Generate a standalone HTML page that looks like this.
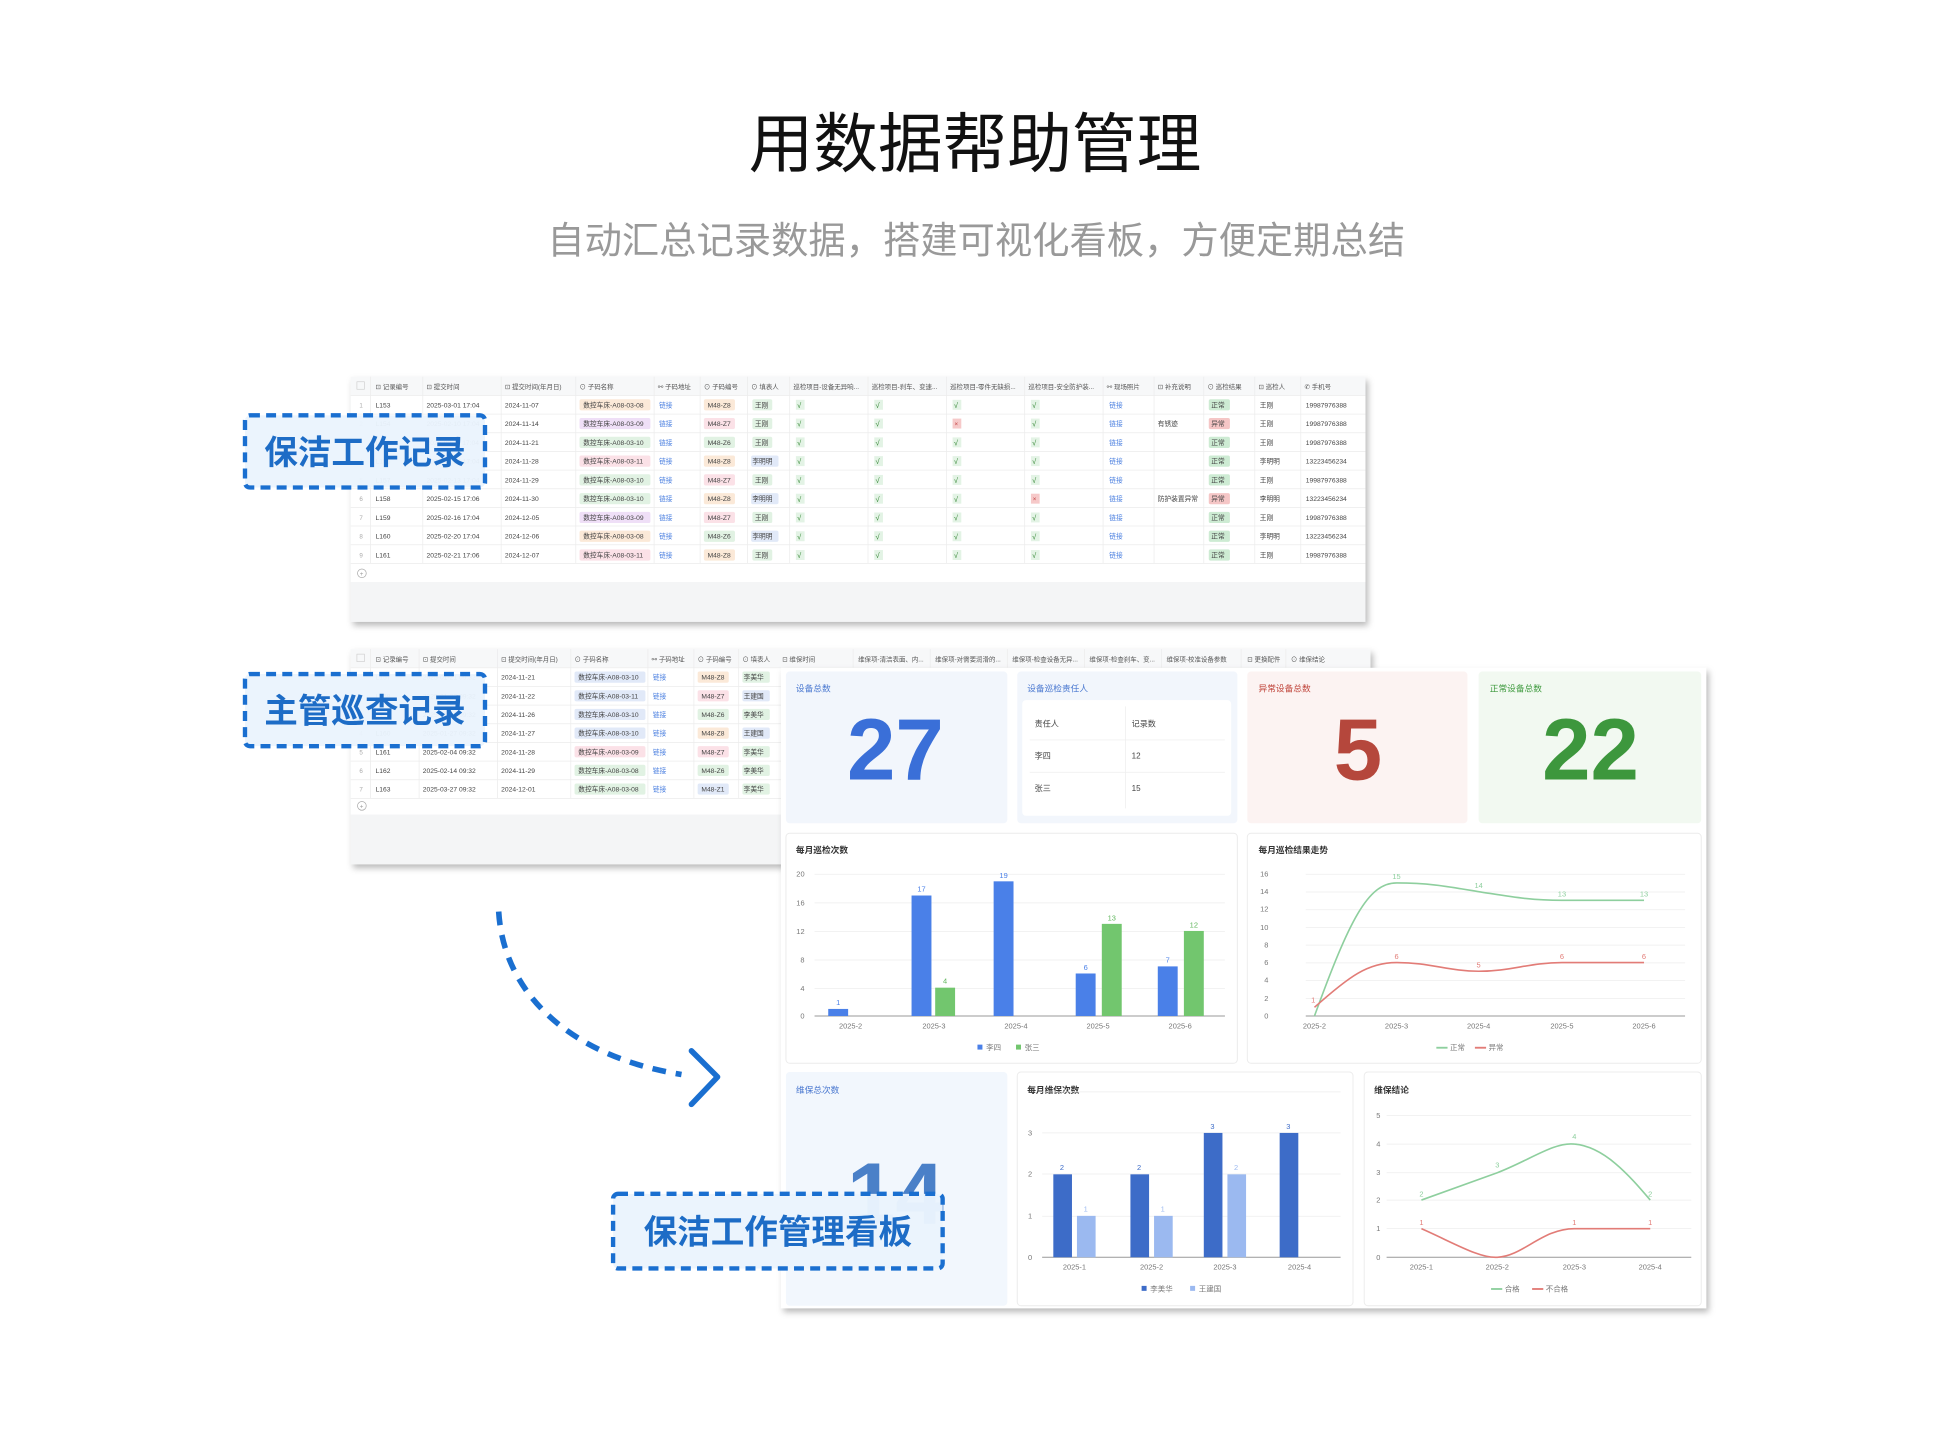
<!DOCTYPE html>
<html><head><meta charset="utf-8">
<style>
html,body{margin:0;padding:0;background:#fff;}
svg{display:block;font-family:"Liberation Sans","Noto Sans CJK SC",sans-serif;}
.t{font-size:5.4px;fill:#444;}
.h{font-size:5.2px;fill:#555;}
.n{font-size:5px;fill:#aaa;}
.lk{font-size:5.4px;fill:#4a7fe0;}
.ck{font-size:6px;fill:#3a8a3a;}
.x{font-size:5px;fill:#c04040;}
.ct{font-size:7px;font-weight:bold;fill:#333;}
.ax{font-size:6px;fill:#777;}
.vl{font-size:6px;}
</style></head>
<body>
<svg width="1940" height="1432" viewBox="0 0 1560 1151.5" preserveAspectRatio="none">
<defs>
<filter id="sh" x="-5%" y="-5%" width="115%" height="120%"><feDropShadow dx="2" dy="3" stdDeviation="2.5" flood-color="#000" flood-opacity="0.28"/></filter>
</defs>
<rect width="1560" height="1151.5" fill="#fff"/>
<text x="784" y="134" text-anchor="middle" font-size="52" fill="#111">用数据帮助管理</text>
<text x="785" y="204" text-anchor="middle" font-size="30" fill="#999">自动汇总记录数据，搭建可视化看板，方便定期总结</text>

<!-- TABLE 1 -->
<g filter="url(#sh)"><rect x="282" y="303" width="816" height="197" fill="#f4f5f6"/></g>
<rect x="282" y="303" width="816" height="165" fill="#fff"/>
<rect x="282" y="303" width="816" height="15" fill="#f7f8f9"/>
<g stroke="#ececec" stroke-width="0.6">
<line x1="282" y1="318" x2="1098" y2="318"/><line x1="282" y1="333" x2="1098" y2="333"/><line x1="282" y1="348" x2="1098" y2="348"/><line x1="282" y1="363" x2="1098" y2="363"/><line x1="282" y1="378" x2="1098" y2="378"/><line x1="282" y1="393" x2="1098" y2="393"/><line x1="282" y1="408" x2="1098" y2="408"/><line x1="282" y1="423" x2="1098" y2="423"/><line x1="282" y1="438" x2="1098" y2="438"/><line x1="282" y1="453" x2="1098" y2="453"/>
<line x1="298" y1="303" x2="298" y2="453"/><line x1="340" y1="303" x2="340" y2="453"/><line x1="403" y1="303" x2="403" y2="453"/><line x1="463" y1="303" x2="463" y2="453"/><line x1="526" y1="303" x2="526" y2="453"/><line x1="563" y1="303" x2="563" y2="453"/><line x1="601" y1="303" x2="601" y2="453"/><line x1="635" y1="303" x2="635" y2="453"/><line x1="698" y1="303" x2="698" y2="453"/><line x1="761" y1="303" x2="761" y2="453"/><line x1="824" y1="303" x2="824" y2="453"/><line x1="887" y1="303" x2="887" y2="453"/><line x1="928" y1="303" x2="928" y2="453"/><line x1="968" y1="303" x2="968" y2="453"/><line x1="1009" y1="303" x2="1009" y2="453"/><line x1="1046" y1="303" x2="1046" y2="453"/>
</g>
<g class="h">
<rect x="287" y="307" width="6" height="6" fill="none" stroke="#ccc" stroke-width="0.5"/>
<text x="302" y="313">⊡ 记录编号</text><text x="343" y="313">⊡ 提交时间</text><text x="406" y="313">⊡ 提交时间(年月日)</text><text x="466" y="313">⊙ 子码名称</text><text x="529" y="313">⚯ 子码地址</text><text x="566" y="313">⊙ 子码编号</text><text x="604" y="313">⊙ 填表人</text><text x="638" y="313">巡检项目-设备无异响...</text><text x="701" y="313">巡检项目-刹车、变速...</text><text x="764" y="313">巡检项目-零件无缺损...</text><text x="827" y="313">巡检项目-安全防护装...</text><text x="890" y="313">⚯ 现场照片</text><text x="931" y="313">⊡ 补充说明</text><text x="971" y="313">⊙ 巡检结果</text><text x="1012" y="313">⊡ 巡检人</text><text x="1049" y="313">✆ 手机号</text>
</g>
<g transform="translate(0,325.5)">
<text class="n" x="289" y="2">1</text><text class="t" x="302" y="2">L153</text><text class="t" x="343" y="2">2025-03-01 17:04</text><text class="t" x="406" y="2">2024-11-07</text>
<rect x="466" y="-4.5" width="57" height="9" rx="1.5" fill="#fbe9d8"/><text class="t" x="469" y="2">数控车床-A08-03-08</text><text class="lk" x="530" y="2">链接</text>
<rect x="566" y="-4.5" width="25" height="9" rx="1.5" fill="#fbe9d8"/><text class="t" x="569" y="2">M48-Z8</text><rect x="605" y="-4.5" width="16" height="9" rx="1.5" fill="#e1f2e3"/><text class="t" x="607" y="2">王刚</text>
<rect x="640" y="-4" width="7" height="8" fill="#e3f3e5"/><text class="ck" x="641" y="2.5">√</text><rect x="703" y="-4" width="7" height="8" fill="#e3f3e5"/><text class="ck" x="704" y="2.5">√</text><rect x="766" y="-4" width="7" height="8" fill="#e3f3e5"/><text class="ck" x="767" y="2.5">√</text><rect x="829" y="-4" width="7" height="8" fill="#e3f3e5"/><text class="ck" x="830" y="2.5">√</text>
<text class="lk" x="892" y="2">链接</text><rect x="972" y="-4.5" width="17" height="9" rx="1.5" fill="#cdebd3"/><text class="t" x="974" y="2">正常</text><text class="t" x="1013" y="2">王刚</text><text class="t" x="1050" y="2">19987976388</text>
</g>
<g transform="translate(0,340.6)">
<text class="n" x="289" y="2">2</text><text class="t" x="302" y="2">L154</text><text class="t" x="343" y="2">2025-02-10 17:04</text><text class="t" x="406" y="2">2024-11-14</text>
<rect x="466" y="-4.5" width="57" height="9" rx="1.5" fill="#efdff7"/><text class="t" x="469" y="2">数控车床-A08-03-09</text><text class="lk" x="530" y="2">链接</text>
<rect x="566" y="-4.5" width="25" height="9" rx="1.5" fill="#fbe1e7"/><text class="t" x="569" y="2">M48-Z7</text><rect x="605" y="-4.5" width="16" height="9" rx="1.5" fill="#e1f2e3"/><text class="t" x="607" y="2">王刚</text>
<rect x="640" y="-4" width="7" height="8" fill="#e3f3e5"/><text class="ck" x="641" y="2.5">√</text><rect x="703" y="-4" width="7" height="8" fill="#e3f3e5"/><text class="ck" x="704" y="2.5">√</text><rect x="766" y="-4" width="7" height="8" fill="#f6c9c9"/><text class="x" x="767.5" y="2">×</text><rect x="829" y="-4" width="7" height="8" fill="#e3f3e5"/><text class="ck" x="830" y="2.5">√</text>
<text class="lk" x="892" y="2">链接</text><text class="t" x="931" y="2">有锈迹</text><rect x="972" y="-4.5" width="17" height="9" rx="1.5" fill="#f5c6c6"/><text class="t" x="974" y="2">异常</text><text class="t" x="1013" y="2">王刚</text><text class="t" x="1050" y="2">19987976388</text>
</g>
<g transform="translate(0,355.7)">
<text class="n" x="289" y="2">3</text><text class="t" x="302" y="2">L155</text><text class="t" x="343" y="2">2025-02-11 17:04</text><text class="t" x="406" y="2">2024-11-21</text>
<rect x="466" y="-4.5" width="57" height="9" rx="1.5" fill="#e1f2e3"/><text class="t" x="469" y="2">数控车床-A08-03-10</text><text class="lk" x="530" y="2">链接</text>
<rect x="566" y="-4.5" width="25" height="9" rx="1.5" fill="#e1f2e3"/><text class="t" x="569" y="2">M48-Z6</text><rect x="605" y="-4.5" width="16" height="9" rx="1.5" fill="#e1f2e3"/><text class="t" x="607" y="2">王刚</text>
<rect x="640" y="-4" width="7" height="8" fill="#e3f3e5"/><text class="ck" x="641" y="2.5">√</text><rect x="703" y="-4" width="7" height="8" fill="#e3f3e5"/><text class="ck" x="704" y="2.5">√</text><rect x="766" y="-4" width="7" height="8" fill="#e3f3e5"/><text class="ck" x="767" y="2.5">√</text><rect x="829" y="-4" width="7" height="8" fill="#e3f3e5"/><text class="ck" x="830" y="2.5">√</text>
<text class="lk" x="892" y="2">链接</text><rect x="972" y="-4.5" width="17" height="9" rx="1.5" fill="#cdebd3"/><text class="t" x="974" y="2">正常</text><text class="t" x="1013" y="2">王刚</text><text class="t" x="1050" y="2">19987976388</text>
</g>
<g transform="translate(0,370.8)">
<text class="n" x="289" y="2">4</text><text class="t" x="302" y="2">L156</text><text class="t" x="343" y="2">2025-02-12 17:04</text><text class="t" x="406" y="2">2024-11-28</text>
<rect x="466" y="-4.5" width="57" height="9" rx="1.5" fill="#fbe1e7"/><text class="t" x="469" y="2">数控车床-A08-03-11</text><text class="lk" x="530" y="2">链接</text>
<rect x="566" y="-4.5" width="25" height="9" rx="1.5" fill="#fbe9d8"/><text class="t" x="569" y="2">M48-Z8</text><rect x="604" y="-4.5" width="22" height="9" rx="1.5" fill="#e1e9f8"/><text class="t" x="605" y="2">李明明</text>
<rect x="640" y="-4" width="7" height="8" fill="#e3f3e5"/><text class="ck" x="641" y="2.5">√</text><rect x="703" y="-4" width="7" height="8" fill="#e3f3e5"/><text class="ck" x="704" y="2.5">√</text><rect x="766" y="-4" width="7" height="8" fill="#e3f3e5"/><text class="ck" x="767" y="2.5">√</text><rect x="829" y="-4" width="7" height="8" fill="#e3f3e5"/><text class="ck" x="830" y="2.5">√</text>
<text class="lk" x="892" y="2">链接</text><rect x="972" y="-4.5" width="17" height="9" rx="1.5" fill="#cdebd3"/><text class="t" x="974" y="2">正常</text><text class="t" x="1013" y="2">李明明</text><text class="t" x="1050" y="2">13223456234</text>
</g>
<g transform="translate(0,385.9)">
<text class="n" x="289" y="2">5</text><text class="t" x="302" y="2">L157</text><text class="t" x="343" y="2">2025-02-13 17:04</text><text class="t" x="406" y="2">2024-11-29</text>
<rect x="466" y="-4.5" width="57" height="9" rx="1.5" fill="#e1f2e3"/><text class="t" x="469" y="2">数控车床-A08-03-10</text><text class="lk" x="530" y="2">链接</text>
<rect x="566" y="-4.5" width="25" height="9" rx="1.5" fill="#fbe1e7"/><text class="t" x="569" y="2">M48-Z7</text><rect x="605" y="-4.5" width="16" height="9" rx="1.5" fill="#e1f2e3"/><text class="t" x="607" y="2">王刚</text>
<rect x="640" y="-4" width="7" height="8" fill="#e3f3e5"/><text class="ck" x="641" y="2.5">√</text><rect x="703" y="-4" width="7" height="8" fill="#e3f3e5"/><text class="ck" x="704" y="2.5">√</text><rect x="766" y="-4" width="7" height="8" fill="#e3f3e5"/><text class="ck" x="767" y="2.5">√</text><rect x="829" y="-4" width="7" height="8" fill="#e3f3e5"/><text class="ck" x="830" y="2.5">√</text>
<text class="lk" x="892" y="2">链接</text><rect x="972" y="-4.5" width="17" height="9" rx="1.5" fill="#cdebd3"/><text class="t" x="974" y="2">正常</text><text class="t" x="1013" y="2">王刚</text><text class="t" x="1050" y="2">19987976388</text>
</g>
<g transform="translate(0,401)">
<text class="n" x="289" y="2">6</text><text class="t" x="302" y="2">L158</text><text class="t" x="343" y="2">2025-02-15 17:06</text><text class="t" x="406" y="2">2024-11-30</text>
<rect x="466" y="-4.5" width="57" height="9" rx="1.5" fill="#e1f2e3"/><text class="t" x="469" y="2">数控车床-A08-03-10</text><text class="lk" x="530" y="2">链接</text>
<rect x="566" y="-4.5" width="25" height="9" rx="1.5" fill="#fbe9d8"/><text class="t" x="569" y="2">M48-Z8</text><rect x="604" y="-4.5" width="22" height="9" rx="1.5" fill="#e1e9f8"/><text class="t" x="605" y="2">李明明</text>
<rect x="640" y="-4" width="7" height="8" fill="#e3f3e5"/><text class="ck" x="641" y="2.5">√</text><rect x="703" y="-4" width="7" height="8" fill="#e3f3e5"/><text class="ck" x="704" y="2.5">√</text><rect x="766" y="-4" width="7" height="8" fill="#e3f3e5"/><text class="ck" x="767" y="2.5">√</text><rect x="829" y="-4" width="7" height="8" fill="#f6c9c9"/><text class="x" x="830.5" y="2">×</text>
<text class="lk" x="892" y="2">链接</text><text class="t" x="931" y="2">防护装置异常</text><rect x="972" y="-4.5" width="17" height="9" rx="1.5" fill="#f5c6c6"/><text class="t" x="974" y="2">异常</text><text class="t" x="1013" y="2">李明明</text><text class="t" x="1050" y="2">13223456234</text>
</g>
<g transform="translate(0,416.1)">
<text class="n" x="289" y="2">7</text><text class="t" x="302" y="2">L159</text><text class="t" x="343" y="2">2025-02-16 17:04</text><text class="t" x="406" y="2">2024-12-05</text>
<rect x="466" y="-4.5" width="57" height="9" rx="1.5" fill="#efdff7"/><text class="t" x="469" y="2">数控车床-A08-03-09</text><text class="lk" x="530" y="2">链接</text>
<rect x="566" y="-4.5" width="25" height="9" rx="1.5" fill="#fbe1e7"/><text class="t" x="569" y="2">M48-Z7</text><rect x="605" y="-4.5" width="16" height="9" rx="1.5" fill="#e1f2e3"/><text class="t" x="607" y="2">王刚</text>
<rect x="640" y="-4" width="7" height="8" fill="#e3f3e5"/><text class="ck" x="641" y="2.5">√</text><rect x="703" y="-4" width="7" height="8" fill="#e3f3e5"/><text class="ck" x="704" y="2.5">√</text><rect x="766" y="-4" width="7" height="8" fill="#e3f3e5"/><text class="ck" x="767" y="2.5">√</text><rect x="829" y="-4" width="7" height="8" fill="#e3f3e5"/><text class="ck" x="830" y="2.5">√</text>
<text class="lk" x="892" y="2">链接</text><rect x="972" y="-4.5" width="17" height="9" rx="1.5" fill="#cdebd3"/><text class="t" x="974" y="2">正常</text><text class="t" x="1013" y="2">王刚</text><text class="t" x="1050" y="2">19987976388</text>
</g>
<g transform="translate(0,431.2)">
<text class="n" x="289" y="2">8</text><text class="t" x="302" y="2">L160</text><text class="t" x="343" y="2">2025-02-20 17:04</text><text class="t" x="406" y="2">2024-12-06</text>
<rect x="466" y="-4.5" width="57" height="9" rx="1.5" fill="#fbe9d8"/><text class="t" x="469" y="2">数控车床-A08-03-08</text><text class="lk" x="530" y="2">链接</text>
<rect x="566" y="-4.5" width="25" height="9" rx="1.5" fill="#e1f2e3"/><text class="t" x="569" y="2">M48-Z6</text><rect x="604" y="-4.5" width="22" height="9" rx="1.5" fill="#e1e9f8"/><text class="t" x="605" y="2">李明明</text>
<rect x="640" y="-4" width="7" height="8" fill="#e3f3e5"/><text class="ck" x="641" y="2.5">√</text><rect x="703" y="-4" width="7" height="8" fill="#e3f3e5"/><text class="ck" x="704" y="2.5">√</text><rect x="766" y="-4" width="7" height="8" fill="#e3f3e5"/><text class="ck" x="767" y="2.5">√</text><rect x="829" y="-4" width="7" height="8" fill="#e3f3e5"/><text class="ck" x="830" y="2.5">√</text>
<text class="lk" x="892" y="2">链接</text><rect x="972" y="-4.5" width="17" height="9" rx="1.5" fill="#cdebd3"/><text class="t" x="974" y="2">正常</text><text class="t" x="1013" y="2">李明明</text><text class="t" x="1050" y="2">13223456234</text>
</g>
<g transform="translate(0,446.3)">
<text class="n" x="289" y="2">9</text><text class="t" x="302" y="2">L161</text><text class="t" x="343" y="2">2025-02-21 17:06</text><text class="t" x="406" y="2">2024-12-07</text>
<rect x="466" y="-4.5" width="57" height="9" rx="1.5" fill="#fbe1e7"/><text class="t" x="469" y="2">数控车床-A08-03-11</text><text class="lk" x="530" y="2">链接</text>
<rect x="566" y="-4.5" width="25" height="9" rx="1.5" fill="#fbe9d8"/><text class="t" x="569" y="2">M48-Z8</text><rect x="605" y="-4.5" width="16" height="9" rx="1.5" fill="#e1f2e3"/><text class="t" x="607" y="2">王刚</text>
<rect x="640" y="-4" width="7" height="8" fill="#e3f3e5"/><text class="ck" x="641" y="2.5">√</text><rect x="703" y="-4" width="7" height="8" fill="#e3f3e5"/><text class="ck" x="704" y="2.5">√</text><rect x="766" y="-4" width="7" height="8" fill="#e3f3e5"/><text class="ck" x="767" y="2.5">√</text><rect x="829" y="-4" width="7" height="8" fill="#e3f3e5"/><text class="ck" x="830" y="2.5">√</text>
<text class="lk" x="892" y="2">链接</text><rect x="972" y="-4.5" width="17" height="9" rx="1.5" fill="#cdebd3"/><text class="t" x="974" y="2">正常</text><text class="t" x="1013" y="2">王刚</text><text class="t" x="1050" y="2">19987976388</text>
</g>
<circle cx="291" cy="461" r="3.5" fill="none" stroke="#aaa" stroke-width="0.6"/><text x="289.3" y="463" font-size="5" fill="#999">+</text>

<!-- TABLE 2 -->
<g filter="url(#sh)"><rect x="282" y="522" width="820" height="173" fill="#f4f5f6"/></g>
<rect x="282" y="522" width="820" height="133" fill="#fff"/>
<rect x="282" y="522" width="820" height="15" fill="#f7f8f9"/>
<g stroke="#ececec" stroke-width="0.6">
<line x1="282" y1="537" x2="1102" y2="537"/><line x1="282" y1="552" x2="628" y2="552"/><line x1="282" y1="567" x2="628" y2="567"/><line x1="282" y1="582" x2="628" y2="582"/><line x1="282" y1="597" x2="628" y2="597"/><line x1="282" y1="612" x2="628" y2="612"/><line x1="282" y1="627" x2="628" y2="627"/><line x1="282" y1="642" x2="628" y2="642"/>
<line x1="298" y1="522" x2="298" y2="642"/><line x1="337" y1="522" x2="337" y2="642"/><line x1="400" y1="522" x2="400" y2="642"/><line x1="459" y1="522" x2="459" y2="642"/><line x1="521" y1="522" x2="521" y2="642"/><line x1="558" y1="522" x2="558" y2="642"/><line x1="594" y1="522" x2="594" y2="642"/><line x1="686" y1="522" x2="686" y2="537"/><line x1="748" y1="522" x2="748" y2="537"/><line x1="810" y1="522" x2="810" y2="537"/><line x1="872" y1="522" x2="872" y2="537"/><line x1="934" y1="522" x2="934" y2="537"/><line x1="998" y1="522" x2="998" y2="537"/><line x1="1034" y1="522" x2="1034" y2="537"/>
</g>
<g class="h">
<rect x="287" y="526" width="6" height="6" fill="none" stroke="#ccc" stroke-width="0.5"/>
<text x="302" y="532">⊡ 记录编号</text><text x="340" y="532">⊡ 提交时间</text><text x="403" y="532">⊡ 提交时间(年月日)</text><text x="462" y="532">⊙ 子码名称</text><text x="524" y="532">⚯ 子码地址</text><text x="561" y="532">⊙ 子码编号</text><text x="597" y="532">⊙ 填表人</text><text x="629" y="532">⊡ 维保时间</text><text x="690" y="532">维保项-清洁表面、内...</text><text x="752" y="532">维保项-对需要润滑的...</text><text x="814" y="532">维保项-检查设备无异...</text><text x="876" y="532">维保项-检查刹车、变...</text><text x="938" y="532">维保项-校准设备参数</text><text x="1003" y="532">⊡ 更换配件</text><text x="1038" y="532">⊙ 维保结论</text>
</g>
<g transform="translate(0,544.5)"><text class="n" x="289" y="2">1</text><text class="t" x="302" y="2">L157</text><text class="t" x="340" y="2">2025-01-21 09:32</text><text class="t" x="403" y="2">2024-11-21</text><rect x="462" y="-4.5" width="57" height="9" rx="1.5" fill="#e1e9f8"/><text class="t" x="465" y="2">数控车床-A08-03-10</text><text class="lk" x="525" y="2">链接</text><rect x="561" y="-4.5" width="25" height="9" rx="1.5" fill="#fbe9d8"/><text class="t" x="564" y="2">M48-Z8</text><rect x="597" y="-4.5" width="22" height="9" rx="1.5" fill="#e1f2e3"/><text class="t" x="598" y="2">李美华</text></g>
<g transform="translate(0,559.5)"><text class="n" x="289" y="2">2</text><text class="t" x="302" y="2">L158</text><text class="t" x="340" y="2">2025-01-22 09:32</text><text class="t" x="403" y="2">2024-11-22</text><rect x="462" y="-4.5" width="57" height="9" rx="1.5" fill="#e1e9f8"/><text class="t" x="465" y="2">数控车床-A08-03-11</text><text class="lk" x="525" y="2">链接</text><rect x="561" y="-4.5" width="25" height="9" rx="1.5" fill="#fbe1e7"/><text class="t" x="564" y="2">M48-Z7</text><rect x="597" y="-4.5" width="22" height="9" rx="1.5" fill="#e1e9f8"/><text class="t" x="598" y="2">王建国</text></g>
<g transform="translate(0,574.5)"><text class="n" x="289" y="2">3</text><text class="t" x="302" y="2">L159</text><text class="t" x="340" y="2">2025-01-26 09:32</text><text class="t" x="403" y="2">2024-11-26</text><rect x="462" y="-4.5" width="57" height="9" rx="1.5" fill="#e1e9f8"/><text class="t" x="465" y="2">数控车床-A08-03-10</text><text class="lk" x="525" y="2">链接</text><rect x="561" y="-4.5" width="25" height="9" rx="1.5" fill="#e1f2e3"/><text class="t" x="564" y="2">M48-Z6</text><rect x="597" y="-4.5" width="22" height="9" rx="1.5" fill="#e1f2e3"/><text class="t" x="598" y="2">李美华</text></g>
<g transform="translate(0,589.5)"><text class="n" x="289" y="2">4</text><text class="t" x="302" y="2">L160</text><text class="t" x="340" y="2">2025-01-27 09:32</text><text class="t" x="403" y="2">2024-11-27</text><rect x="462" y="-4.5" width="57" height="9" rx="1.5" fill="#e1e9f8"/><text class="t" x="465" y="2">数控车床-A08-03-10</text><text class="lk" x="525" y="2">链接</text><rect x="561" y="-4.5" width="25" height="9" rx="1.5" fill="#fbe9d8"/><text class="t" x="564" y="2">M48-Z8</text><rect x="597" y="-4.5" width="22" height="9" rx="1.5" fill="#e1e9f8"/><text class="t" x="598" y="2">王建国</text></g>
<g transform="translate(0,604.5)"><text class="n" x="289" y="2">5</text><text class="t" x="302" y="2">L161</text><text class="t" x="340" y="2">2025-02-04 09:32</text><text class="t" x="403" y="2">2024-11-28</text><rect x="462" y="-4.5" width="57" height="9" rx="1.5" fill="#fbe1e7"/><text class="t" x="465" y="2">数控车床-A08-03-09</text><text class="lk" x="525" y="2">链接</text><rect x="561" y="-4.5" width="25" height="9" rx="1.5" fill="#fbe1e7"/><text class="t" x="564" y="2">M48-Z7</text><rect x="597" y="-4.5" width="22" height="9" rx="1.5" fill="#e1f2e3"/><text class="t" x="598" y="2">李美华</text></g>
<g transform="translate(0,619.5)"><text class="n" x="289" y="2">6</text><text class="t" x="302" y="2">L162</text><text class="t" x="340" y="2">2025-02-14 09:32</text><text class="t" x="403" y="2">2024-11-29</text><rect x="462" y="-4.5" width="57" height="9" rx="1.5" fill="#e1f2e3"/><text class="t" x="465" y="2">数控车床-A08-03-08</text><text class="lk" x="525" y="2">链接</text><rect x="561" y="-4.5" width="25" height="9" rx="1.5" fill="#e1f2e3"/><text class="t" x="564" y="2">M48-Z6</text><rect x="597" y="-4.5" width="22" height="9" rx="1.5" fill="#e1f2e3"/><text class="t" x="598" y="2">李美华</text></g>
<g transform="translate(0,634.5)"><text class="n" x="289" y="2">7</text><text class="t" x="302" y="2">L163</text><text class="t" x="340" y="2">2025-03-27 09:32</text><text class="t" x="403" y="2">2024-12-01</text><rect x="462" y="-4.5" width="57" height="9" rx="1.5" fill="#e1f2e3"/><text class="t" x="465" y="2">数控车床-A08-03-08</text><text class="lk" x="525" y="2">链接</text><rect x="561" y="-4.5" width="25" height="9" rx="1.5" fill="#e1e9f8"/><text class="t" x="564" y="2">M48-Z1</text><rect x="597" y="-4.5" width="22" height="9" rx="1.5" fill="#e1f2e3"/><text class="t" x="598" y="2">李美华</text></g>
<circle cx="291" cy="648" r="3.5" fill="none" stroke="#aaa" stroke-width="0.6"/><text x="289.3" y="650" font-size="5" fill="#999">+</text>

<!-- DASHBOARD -->
<g filter="url(#sh)"><rect x="628" y="537" width="744" height="515" fill="#fff"/></g>
<rect x="632" y="540" width="178" height="122" rx="3" fill="#f2f6fc"/>
<rect x="818" y="540" width="177" height="122" rx="3" fill="#f2f6fc"/>
<rect x="1003" y="540" width="177" height="122" rx="3" fill="#fcf3f2"/>
<rect x="1189" y="540" width="179" height="122" rx="3" fill="#f2f9f1"/>
<text x="640" y="556" font-size="7" fill="#4a78d0">设备总数</text>
<text x="720" y="627" text-anchor="middle" font-size="70" font-weight="bold" fill="#3a6fd8">27</text>
<text x="826" y="556" font-size="7" fill="#4a78d0">设备巡检责任人</text>
<rect x="822" y="563" width="168" height="93" rx="3" fill="#fff"/>
<g stroke="#eee" stroke-width="0.6"><line x1="828" y1="595" x2="985" y2="595"/><line x1="828" y1="621" x2="985" y2="621"/><line x1="905" y1="568" x2="905" y2="650"/></g>
<g font-size="6.5" fill="#444"><text x="832" y="584">责任人</text><text x="910" y="584">记录数</text><text x="832" y="610">李四</text><text x="910" y="610">12</text><text x="832" y="636">张三</text><text x="910" y="636">15</text></g>
<text x="1012" y="556" font-size="7" fill="#c0453b">异常设备总数</text>
<text x="1092" y="627" text-anchor="middle" font-size="70" font-weight="bold" fill="#b5473c">5</text>
<text x="1198" y="556" font-size="7" fill="#3e9a3e">正常设备总数</text>
<text x="1279" y="627" text-anchor="middle" font-size="70" font-weight="bold" fill="#3d973d">22</text>

<rect x="632" y="670" width="363" height="185" rx="3" fill="#fff" stroke="#ececec" stroke-width="0.8"/>
<text class="ct" x="640" y="686">每月巡检次数</text>
<g stroke="#eee" stroke-width="0.6"><line x1="655" y1="703" x2="985" y2="703"/><line x1="655" y1="726" x2="985" y2="726"/><line x1="655" y1="749" x2="985" y2="749"/><line x1="655" y1="772" x2="985" y2="772"/><line x1="655" y1="795" x2="985" y2="795"/></g>
<line x1="655" y1="817" x2="985" y2="817" stroke="#999" stroke-width="0.8"/>
<g class="ax" text-anchor="end"><text x="647" y="705">20</text><text x="647" y="728">16</text><text x="647" y="751">12</text><text x="647" y="774">8</text><text x="647" y="797">4</text><text x="647" y="819">0</text></g>
<g class="ax" text-anchor="middle"><text x="684" y="827">2025-2</text><text x="751" y="827">2025-3</text><text x="817" y="827">2025-4</text><text x="883" y="827">2025-5</text><text x="949" y="827">2025-6</text></g>
<g fill="#4a80e8"><rect x="666" y="811.3" width="16" height="5.7"/><rect x="733" y="720.1" width="16" height="96.9"/><rect x="799" y="708.7" width="16" height="108.3"/><rect x="865" y="782.8" width="16" height="34.2"/><rect x="931" y="777.1" width="16" height="39.9"/></g>
<g fill="#72c66e"><rect x="752" y="794.2" width="16" height="22.8"/><rect x="886" y="742.9" width="16" height="74.1"/><rect x="952" y="748.6" width="16" height="68.4"/></g>
<g class="vl" text-anchor="middle" fill="#4a80e8"><text x="674" y="808">1</text><text x="741" y="717">17</text><text x="807" y="706">19</text><text x="873" y="780">6</text><text x="939" y="774">7</text></g>
<g class="vl" text-anchor="middle" fill="#5fb65b"><text x="760" y="791">4</text><text x="894" y="740">13</text><text x="960" y="746">12</text></g>
<rect x="786" y="840" width="4" height="4" fill="#4a80e8"/><text x="793" y="844.5" class="ax">李四</text><rect x="817" y="840" width="4" height="4" fill="#72c66e"/><text x="824" y="844.5" class="ax">张三</text>

<rect x="1003" y="670" width="365" height="185" rx="3" fill="#fff" stroke="#ececec" stroke-width="0.8"/>
<text class="ct" x="1012" y="686">每月巡检结果走势</text>
<g stroke="#eee" stroke-width="0.6"><line x1="1050" y1="703" x2="1355" y2="703"/><line x1="1050" y1="717.3" x2="1355" y2="717.3"/><line x1="1050" y1="731.5" x2="1355" y2="731.5"/><line x1="1050" y1="745.8" x2="1355" y2="745.8"/><line x1="1050" y1="760" x2="1355" y2="760"/><line x1="1050" y1="774.3" x2="1355" y2="774.3"/><line x1="1050" y1="788.5" x2="1355" y2="788.5"/><line x1="1050" y1="802.8" x2="1355" y2="802.8"/></g>
<line x1="1050" y1="817" x2="1355" y2="817" stroke="#999" stroke-width="0.8"/>
<g class="ax" text-anchor="end"><text x="1020" y="705">16</text><text x="1020" y="719">14</text><text x="1020" y="733">12</text><text x="1020" y="748">10</text><text x="1020" y="762">8</text><text x="1020" y="776">6</text><text x="1020" y="790">4</text><text x="1020" y="805">2</text><text x="1020" y="819">0</text></g>
<g class="ax" text-anchor="middle"><text x="1057" y="827">2025-2</text><text x="1123" y="827">2025-3</text><text x="1189" y="827">2025-4</text><text x="1256" y="827">2025-5</text><text x="1322" y="827">2025-6</text></g>
<path d="M1057 817 C1085 740,1100 710,1123 710 C1150 710,1165 713,1189 717 C1215 721,1230 724,1256 724 L1322 724" fill="none" stroke="#8ecf9e" stroke-width="1.3"/>
<path d="M1057 810 C1085 785,1100 774,1123 774 C1150 774,1165 781,1189 781 C1215 781,1230 774,1256 774 L1322 774" fill="none" stroke="#e27c77" stroke-width="1.3"/>
<g class="vl" text-anchor="middle" fill="#8ecf9e"><text x="1123" y="707">15</text><text x="1189" y="714">14</text><text x="1256" y="721">13</text><text x="1322" y="721">13</text></g>
<g class="vl" text-anchor="middle" fill="#e27c77"><text x="1056" y="806">1</text><text x="1123" y="771">6</text><text x="1189" y="778">5</text><text x="1256" y="771">6</text><text x="1322" y="771">6</text></g>
<line x1="1155" y1="842.5" x2="1164" y2="842.5" stroke="#8ecf9e" stroke-width="1.5"/><text x="1166" y="844.5" class="ax">正常</text><line x1="1186" y1="842.5" x2="1195" y2="842.5" stroke="#e27c77" stroke-width="1.5"/><text x="1197" y="844.5" class="ax">异常</text>

<rect x="632" y="862" width="178" height="188" rx="3" fill="#f2f7fd"/>
<text x="640" y="879" font-size="7" fill="#4a78d0">维保总次数</text>
<text x="720" y="984" text-anchor="middle" font-size="70" font-weight="bold" fill="#4a80c8">14</text>

<rect x="818" y="862" width="270" height="188" rx="3" fill="#fff" stroke="#ececec" stroke-width="0.8"/>
<text class="ct" x="826" y="879">每月维保次数</text>
<g stroke="#eee" stroke-width="0.6"><line x1="838" y1="878" x2="1078" y2="878"/><line x1="838" y1="911" x2="1078" y2="911"/><line x1="838" y1="944" x2="1078" y2="944"/><line x1="838" y1="978" x2="1078" y2="978"/></g>
<line x1="838" y1="1011" x2="1078" y2="1011" stroke="#999" stroke-width="0.8"/>
<g class="ax" text-anchor="end"><text x="830" y="913">3</text><text x="830" y="946">2</text><text x="830" y="980">1</text><text x="830" y="1013">0</text></g>
<g class="ax" text-anchor="middle"><text x="864" y="1021">2025-1</text><text x="926" y="1021">2025-2</text><text x="985" y="1021">2025-3</text><text x="1045" y="1021">2025-4</text></g>
<g fill="#3d6cc8"><rect x="847" y="944.3" width="15" height="66.7"/><rect x="909" y="944.3" width="15" height="66.7"/><rect x="968" y="911" width="15" height="100"/><rect x="1029" y="911" width="15" height="100"/></g>
<g fill="#9bb9f0"><rect x="866" y="977.7" width="15" height="33.3"/><rect x="928" y="977.7" width="15" height="33.3"/><rect x="987" y="944.3" width="15" height="66.7"/></g>
<g class="vl" text-anchor="middle" fill="#3d6cc8"><text x="854" y="941">2</text><text x="916" y="941">2</text><text x="975" y="908">3</text><text x="1036" y="908">3</text></g>
<g class="vl" text-anchor="middle" fill="#9bb9f0"><text x="873" y="974">1</text><text x="935" y="974">1</text><text x="994" y="941">2</text></g>
<rect x="918" y="1034" width="4" height="4" fill="#3d6cc8"/><text x="925" y="1038.5" class="ax">李美华</text><rect x="957" y="1034" width="4" height="4" fill="#9bb9f0"/><text x="964" y="1038.5" class="ax">王建国</text>

<rect x="1097" y="862" width="271" height="188" rx="3" fill="#fff" stroke="#ececec" stroke-width="0.8"/>
<text class="ct" x="1105" y="879">维保结论</text>
<g stroke="#eee" stroke-width="0.6"><line x1="1115" y1="897" x2="1360" y2="897"/><line x1="1115" y1="920" x2="1360" y2="920"/><line x1="1115" y1="943" x2="1360" y2="943"/><line x1="1115" y1="965" x2="1360" y2="965"/><line x1="1115" y1="988" x2="1360" y2="988"/></g>
<line x1="1115" y1="1011" x2="1360" y2="1011" stroke="#999" stroke-width="0.8"/>
<g class="ax" text-anchor="end"><text x="1110" y="899">5</text><text x="1110" y="922">4</text><text x="1110" y="945">3</text><text x="1110" y="967">2</text><text x="1110" y="990">1</text><text x="1110" y="1013">0</text></g>
<g class="ax" text-anchor="middle"><text x="1143" y="1021">2025-1</text><text x="1204" y="1021">2025-2</text><text x="1266" y="1021">2025-3</text><text x="1327" y="1021">2025-4</text></g>
<path d="M1143 965 L1204 943 C1230 933,1250 918,1266 920 C1290 922,1310 945,1327 965" fill="none" stroke="#8ecf9e" stroke-width="1.3"/>
<path d="M1143 988 C1170 1000,1190 1012,1204 1011 C1225 1010,1240 988,1266 988 L1327 988" fill="none" stroke="#e27c77" stroke-width="1.3"/>
<g class="vl" text-anchor="middle" fill="#8ecf9e"><text x="1143" y="962">2</text><text x="1204" y="939">3</text><text x="1266" y="916">4</text><text x="1327" y="962">2</text></g>
<g class="vl" text-anchor="middle" fill="#e27c77"><text x="1143" y="985">1</text><text x="1266" y="985">1</text><text x="1327" y="985">1</text></g>
<line x1="1199" y1="1036.5" x2="1208" y2="1036.5" stroke="#8ecf9e" stroke-width="1.5"/><text x="1210" y="1038.5" class="ax">合格</text><line x1="1232" y1="1036.5" x2="1241" y2="1036.5" stroke="#e27c77" stroke-width="1.5"/><text x="1243" y="1038.5" class="ax">不合格</text>

<rect x="197" y="334" width="193" height="58" rx="4" fill="#eaf4fd" fill-opacity="0.96" stroke="#1a6fd0" stroke-width="3.5" stroke-dasharray="8 5"/>
<text x="293.5" y="373" text-anchor="middle" font-size="27" font-weight="bold" fill="#1d6cc6">保洁工作记录</text>
<rect x="197" y="542" width="193" height="58" rx="4" fill="#eaf4fd" fill-opacity="0.96" stroke="#1a6fd0" stroke-width="3.5" stroke-dasharray="8 5"/>
<text x="293.5" y="581" text-anchor="middle" font-size="27" font-weight="bold" fill="#1d6cc6">主管巡查记录</text>
<rect x="493" y="960" width="265" height="60" rx="4" fill="#eaf4fd" fill-opacity="0.97" stroke="#1a6fd0" stroke-width="3.5" stroke-dasharray="8 5"/>
<text x="625.5" y="1000" text-anchor="middle" font-size="27" font-weight="bold" fill="#1d6cc6">保洁工作管理看板</text>

<path d="M401 733 C405 800,460 850,548 864" fill="none" stroke="#1a6fd0" stroke-width="4.5" stroke-dasharray="11 8"/>
<path d="M556 845 L577 866 L556 888" fill="none" stroke="#1a6fd0" stroke-width="4.5" stroke-linecap="round" stroke-linejoin="round"/>
</svg>
</body></html>
